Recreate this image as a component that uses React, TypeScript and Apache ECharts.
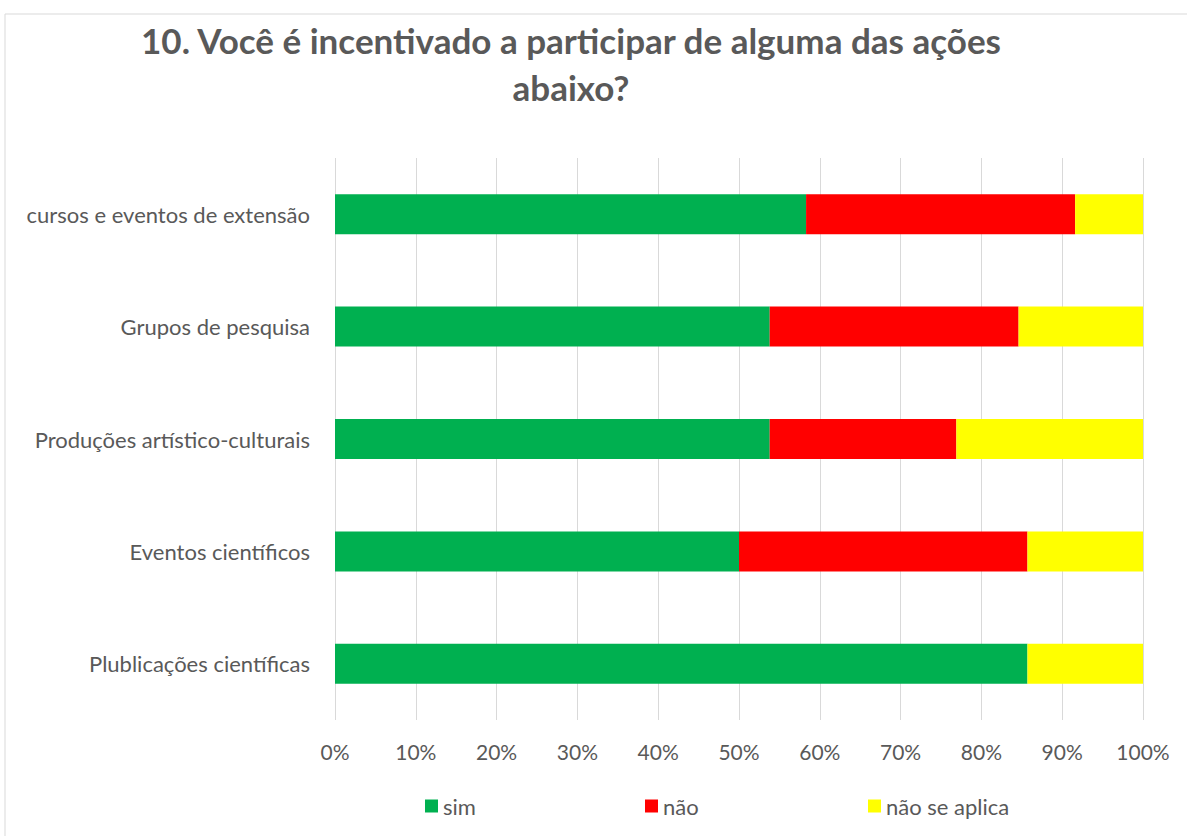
import React, { useEffect, useRef } from "react";
import * as echarts from "echarts";

const categories = [
  "cursos e eventos de extensão",
  "Grupos de pesquisa",
  "Produções artístico-culturais",
  "Eventos científicos",
  "Plublicações científicas",
];
const simValues = [58.3, 53.8, 53.8, 50.0, 85.7];
const naoValues = [33.3, 30.8, 23.1, 35.7, 0];
const naoSeAplicaValues = [8.4, 15.4, 23.1, 14.3, 14.3];
const seriesNames = ["sim", "não", "não se aplica"];
const titleLines = ["10. Você é incentivado a participar de alguma das ações", "abaixo?"];

const FONT = "Lato, 'Noto Sans', sans-serif";
const GRAY = "#595959";

export default function App() {
  const ref = useRef<HTMLDivElement>(null);
  useEffect(() => {
    if (!ref.current) return;
    const chart = echarts.init(ref.current, null, { renderer: "svg" });
    const colors = ["#00B050", "#FF0000", "#FFFF00"];
    const data = [simValues, naoValues, naoSeAplicaValues];
    const legendLefts = [420, 640, 863];
    chart.setOption({
      animation: false,
      backgroundColor: "#ffffff",
      textStyle: { fontFamily: FONT },
      title: {
        text: titleLines.join("\n"),
        left: 566,
        top: 11,
        textAlign: "center",
        textStyle: {
          fontFamily: FONT,
          fontSize: 35,
          fontWeight: "bold",
          color: GRAY,
          lineHeight: 47,
        },
      },
      graphic: [
        {
          type: "rect",
          shape: { x: 5, y: 14, width: 1200, height: 840 },
          style: { fill: "none", stroke: "#D9D9D9", lineWidth: 1 },
          silent: true,
        },
      ],
      legend: seriesNames.map((name, i) => ({
        left: legendLefts[i],
        top: 790,
        itemWidth: 13,
        itemHeight: 13,
        itemGap: 10,
        icon: "rect",
        textStyle: { fontFamily: FONT, fontSize: 22, color: GRAY },
        data: [name],
      })),
      grid: { left: 335, right: 44, top: 158, bottom: 116, containLabel: false },
      xAxis: {
        type: "value",
        min: 0,
        max: 100,
        interval: 10,
        axisLine: { show: false },
        axisTick: { show: false },
        axisLabel: {
          formatter: "{value}%",
          fontFamily: FONT,
          fontSize: 21,
          color: GRAY,
          margin: 21,
        },
        splitLine: { show: true, lineStyle: { color: "#D9D9D9", width: 1 } },
      },
      yAxis: {
        type: "category",
        inverse: true,
        data: categories,
        axisLine: { show: false },
        axisTick: { show: false },
        axisLabel: { fontFamily: FONT, fontSize: 22, color: GRAY, margin: 25 },
      },
      series: seriesNames.map((name, i) => ({
        name,
        type: "bar",
        stack: "total",
        barWidth: 40,
        itemStyle: { color: colors[i] },
        data: data[i],
      })),
    });
    return () => chart.dispose();
  }, []);
  return (
    <div
      ref={ref}
      style={{ position: "fixed", left: 0, top: 0, width: 1187, height: 836 }}
    />
  );
}
